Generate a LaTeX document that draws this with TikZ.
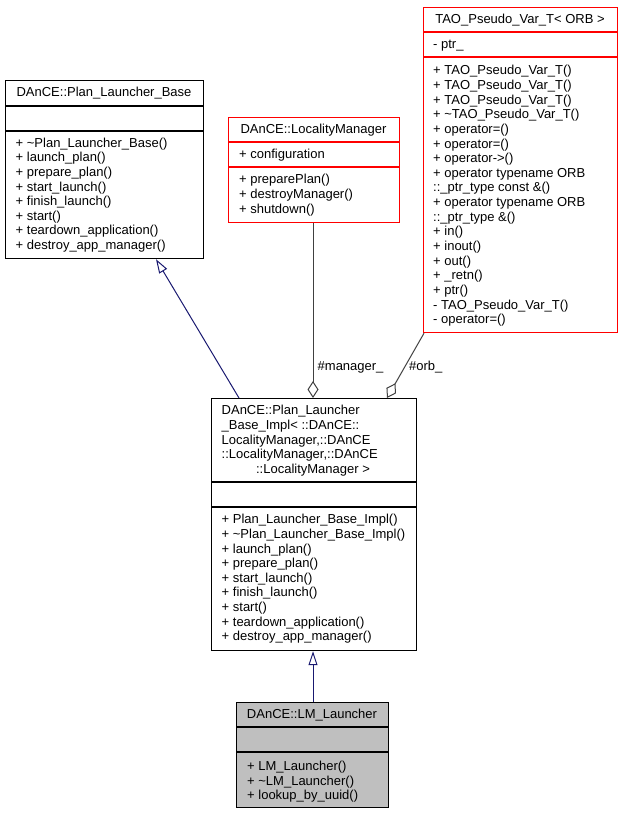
\documentclass[tikz,border=0pt]{standalone}
\usepackage{fontspec}
\setmainfont{Liberation Sans}
\usetikzlibrary{arrows.meta}
\definecolor{navyedge}{HTML}{191970}
\definecolor{aggedge}{HTML}{404040}
\definecolor{boxred}{HTML}{FF0000}
\definecolor{boxgray}{HTML}{BFBFBF}
\begin{document}
\begin{tikzpicture}[x=1pt,y=-1pt,
  txt/.style={inner sep=0pt, anchor=base west, font=\fontsize{13}{14.6}\selectfont},
  ttl/.style={inner sep=0pt, anchor=base, font=\fontsize{13}{14.6}\selectfont},
  classbox/.style={draw, line width=1.2pt, inner sep=0pt, anchor=north west},
  redbox/.style={classbox, draw=boxred},
  graybox/.style={classbox, fill=boxgray},
  sepline/.style={line width=1.2pt},
  inherit/.style={draw=navyedge, line width=1pt, -{Triangle[open,length=14pt,width=9pt]}},
  agg/.style={draw=aggedge, line width=1pt, -{Diamond[open,length=17pt,width=11pt]}}]
\useasboundingbox (0,0) rectangle (623,813);

% ---- DAnCE::Plan_Launcher_Base
\node[classbox, minimum width=198pt, minimum height=178pt] (base) at (5,80) {};
\draw[sepline] (5,106) -- (203,106);
\draw[sepline] (5,131) -- (203,131);
\node[ttl] (baset) at (104,96.8) {DAnCE::Plan\_Launcher\_Base};
\foreach \t [count=\i from 0] in {+ \textasciitilde Plan\_Launcher\_Base(), + launch\_plan(), + prepare\_plan(), + start\_launch(), + finish\_launch(), + start(), + teardown\_application(), + destroy\_app\_manager()}
  \node[txt] (basem\i) at (15.5,147.3+14.6*\i) {\t};

% ---- DAnCE::LocalityManager
\node[redbox, minimum width=171pt, minimum height=105pt] (loc) at (228,117) {};
\draw[sepline, boxred] (228,142) -- (399,142);
\draw[sepline, boxred] (228,167) -- (399,167);
\node[ttl] (loct) at (313.5,133.3) {DAnCE::LocalityManager};
\node[txt] (loca) at (239,158.8) {+ configuration};
\foreach \t [count=\i from 0] in {+ preparePlan(), + destroyManager(), + shutdown()}
  \node[txt] (locm\i) at (239,183.8+14.6*\i) {\t};

% ---- TAO_Pseudo_Var_T< ORB >
\node[redbox, minimum width=194pt, minimum height=325pt] (tao) at (423,7) {};
\draw[sepline, boxred] (423,32) -- (617,32);
\draw[sepline, boxred] (423,57) -- (617,57);
\node[ttl] (taot) at (520,23.8) {TAO\_Pseudo\_Var\_T< ORB >};
\node[txt] (taoa) at (433,48.8) {- ptr\_};
\foreach \t [count=\i from 0] in {+ TAO\_Pseudo\_Var\_T(), + TAO\_Pseudo\_Var\_T(), + TAO\_Pseudo\_Var\_T(), + \textasciitilde TAO\_Pseudo\_Var\_T(), + operator=(), + operator=(), + operator->(), + operator typename ORB, ::\_ptr\_type const \&(), + operator typename ORB, ::\_ptr\_type \&(), + in(), + inout(), + out(), + \_retn(), + ptr(), - TAO\_Pseudo\_Var\_T(), - operator=()}
  \node[txt] (taom\i) at (433,74.8+14.65*\i) {\t};

% ---- DAnCE::Plan_Launcher_Base_Impl<...>
\node[classbox, minimum width=205pt, minimum height=252pt] (impl) at (211,398) {};
\draw[sepline] (211,482) -- (416,482);
\draw[sepline] (211,507) -- (416,507);
\foreach \t [count=\i from 0] in {DAnCE::Plan\_Launcher, \_Base\_Impl< ::DAnCE::, {LocalityManager,::DAnCE}, {::LocalityManager,::DAnCE}}
  \node[txt] (implt\i) at (221.5,414.8+14.6*\i) {\t};
\node[ttl] (implt4) at (313,473.2) {::LocalityManager >};
\foreach \t [count=\i from 0] in {+ Plan\_Launcher\_Base\_Impl(), + \textasciitilde Plan\_Launcher\_Base\_Impl(), + launch\_plan(), + prepare\_plan(), + start\_launch(), + finish\_launch(), + start(), + teardown\_application(), + destroy\_app\_manager()}
  \node[txt] (implm\i) at (221.5,523.8+14.6*\i) {\t};

% ---- DAnCE::LM_Launcher
\node[graybox, minimum width=152pt, minimum height=105pt] (lm) at (236,702) {};
\draw[sepline] (236,727) -- (388,727);
\draw[sepline] (236,752) -- (388,752);
\node[ttl] (lmt) at (312,718.8) {DAnCE::LM\_Launcher};
\foreach \t [count=\i from 0] in {+ LM\_Launcher(), + \textasciitilde LM\_Launcher(), + lookup\_by\_uuid()}
  \node[txt] (lmm\i) at (247,770.8+14.3*\i) {\t};

% ---- connectors
\draw[inherit] ([xshift=28pt]impl.north west) -- ([xshift=151pt]base.south west);
\draw[inherit] ([xshift=77pt]lm.north west) -- ([xshift=102pt]impl.south west);
\draw[agg] ([xshift=85pt]loc.south west) -- ([xshift=102pt]impl.north west);
\draw[agg] ([xshift=1pt]tao.south west) -- ([xshift=176pt]impl.north west);
\node[txt] (lblmanager) at (317.5,370) {\#manager\_};
\node[txt] (lblorb) at (409,370) {\#orb\_};
\end{tikzpicture}
\end{document}
